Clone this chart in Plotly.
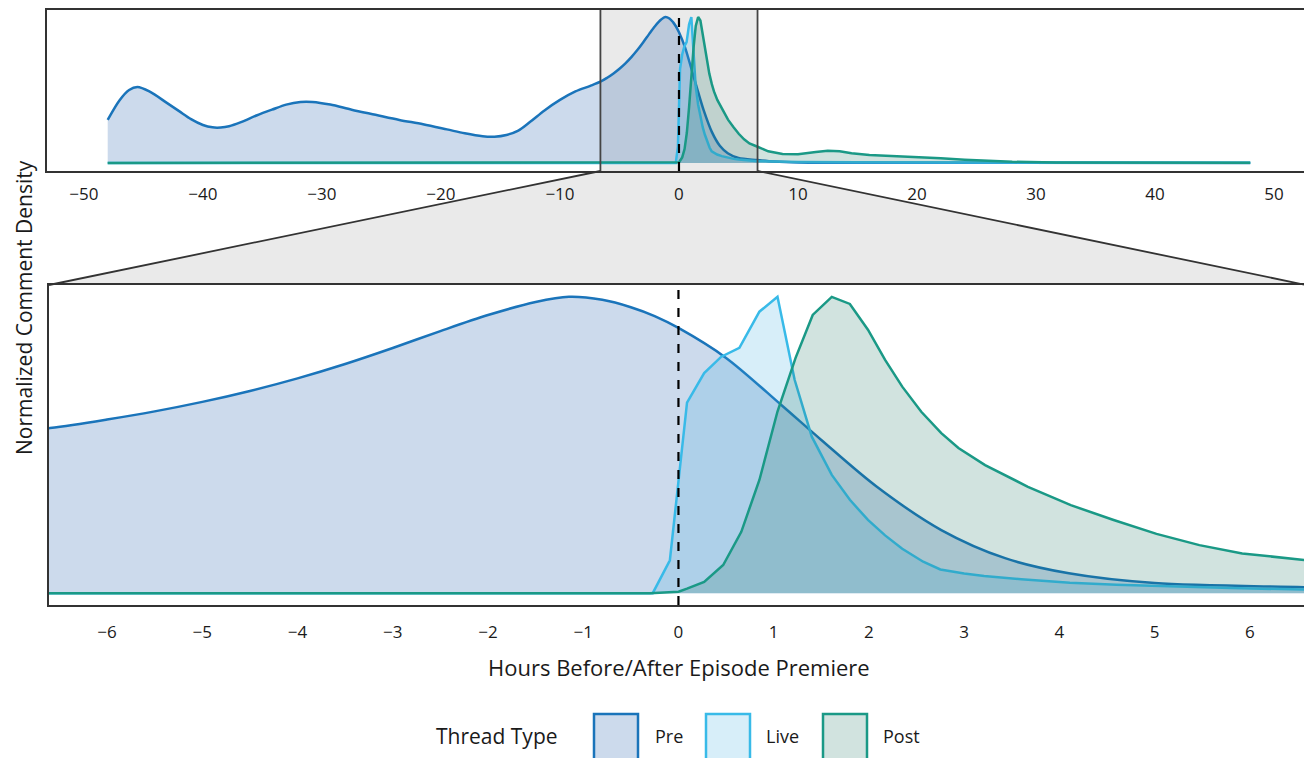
import plotly.graph_objects as go

# ---------------- data ----------------
pre_x = [-48, -47, -46.2, -45.5, -44.5, -43, -42, -41, -40, -39.2, -38.5, -37.8, -36.8, -35.5, -34.2,
         -33, -31.8, -30.8, -29.3, -27.5, -25.5, -23.5, -21.5, -19.5, -18, -16.5, -15.5, -14.5, -13.5,
         -12.5, -11.3, -10, -8.7, -7.5, -6.6, -6.0, -5.5, -5.0, -4.5, -4.0, -3.5, -3.0, -2.5, -2.0,
         -1.5, -1.15, -0.8, -0.5, -0.25, 0, 0.5, 1.08, 1.5, 2.08, 2.76, 3.43, 4.1, 5.0, 6.6, 8, 10,
         15, 25, 48]
pre_y = [0.295, 0.43, 0.50, 0.52, 0.49, 0.41, 0.355, 0.30, 0.26, 0.244, 0.243, 0.252, 0.28, 0.325, 0.365,
         0.40, 0.418, 0.418, 0.40, 0.365, 0.33, 0.295, 0.265, 0.23, 0.203, 0.183, 0.18, 0.192, 0.222,
         0.282, 0.36, 0.432, 0.49, 0.527, 0.557, 0.586, 0.6135, 0.6455, 0.6825, 0.725, 0.7735, 0.8275,
         0.8845, 0.9385, 0.9825, 1.0, 0.99, 0.965, 0.935, 0.895, 0.794, 0.635, 0.517, 0.36, 0.213, 0.118,
         0.067, 0.034, 0.02, 0.01, 0.004, 0.002, 0.001, 0.0]

live_x = [-48, -0.27, -0.09, 0.09, 0.27, 0.45, 0.64, 0.85, 1.04, 1.22, 1.40, 1.61, 1.8, 1.99, 2.17,
          2.35, 2.57, 2.75, 3.0, 3.21, 3.6, 4.11, 4.6, 5.02, 5.8, 6.6, 8, 10, 15, 25, 35, 48]
live_y = [0, 0, 0.111, 0.643, 0.743, 0.798, 0.828, 0.95, 1.0, 0.72, 0.528, 0.399, 0.315, 0.247, 0.195,
          0.15, 0.106, 0.08, 0.066, 0.058, 0.047, 0.035, 0.028, 0.024, 0.017, 0.012, 0.01, 0.007, 0.005,
          0.003, 0.002, 0.002]

post_x = [-48, -0.3, 0, 0.09, 0.27, 0.47, 0.66, 0.85, 1.04, 1.23, 1.41, 1.61, 1.80, 1.99, 2.17, 2.35,
          2.55, 2.76, 2.94, 3.22, 3.67, 4.12, 4.57, 5.02, 5.47, 5.92, 6.6, 7.5, 8.7, 10, 11.5, 12.5,
          13.5, 14.5, 16, 18.3, 20, 22, 24, 26, 28, 31.7, 36, 40, 44, 48]
post_y = [0, 0, 0.005, 0.015, 0.038, 0.095, 0.207, 0.382, 0.613, 0.794, 0.939, 1.0, 0.976, 0.889, 0.787,
          0.697, 0.612, 0.54, 0.49, 0.432, 0.359, 0.297, 0.247, 0.2, 0.162, 0.134, 0.111, 0.08, 0.062,
          0.06, 0.075, 0.084, 0.08, 0.066, 0.055, 0.048, 0.042, 0.032, 0.022, 0.014, 0.008, 0.003, 0.003,
          0.005, 0.003, 0.002]

series_names = ["Pre", "Live", "Post"]
top_ticks = [-50, -40, -30, -20, -10, 0, 10, 20, 30, 40, 50]
bottom_ticks = [-6, -5, -4, -3, -2, -1, 0, 1, 2, 3, 4, 5, 6]
zoom_window = [-6.6, 6.6]

# ---------------- style ----------------
OFF = 8  # page body margin
W, H = 1312 - OFF, 758 - OFF
line_cols = {"Pre": "#1A74BA", "Live": "#38BAE8", "Post": "#1A9986"}
fill_cols = {"Pre": "rgba(0,70,160,0.2)", "Live": "rgba(55,170,225,0.2)", "Post": "rgba(25,115,95,0.2)"}
swatch_fill = {"Pre": "#CCDAEC", "Live": "#D7EEF9", "Post": "#D1E3DF"}
FONT = "Open Sans"
TXT = "#1a1a1a"
FRAME = "#333333"


def px(x):
    return (x - OFF) / W


def py(y):
    return 1 - (y - OFF) / H


top_dom_x = [px(47), px(1305)]
top_dom_y = [py(171), py(10)]
bot_dom_x = [px(49), px(1306)]
bot_dom_y = [py(605), py(285)]
top_range = [-53.1, 52.6]
bot_range = [-6.61, 6.59]

fig = go.Figure()
data = {"Pre": (pre_x, pre_y), "Live": (live_x, live_y), "Post": (post_x, post_y)}
for axis_suffix in ["", "2"]:
    for name in series_names:
        xs, ys = data[name]
        fig.add_trace(go.Scatter(
            x=xs, y=ys, name=name, mode="lines",
            line=dict(color=line_cols[name], width=2.5,
                      shape="spline" if name == "Pre" else "linear", smoothing=0.9),
            fill="tozeroy", fillcolor=fill_cols[name],
            xaxis="x" + axis_suffix, yaxis="y" + axis_suffix, showlegend=False,
            hoverinfo="skip"))

axis_common = dict(showline=True, mirror=True, linecolor=FRAME, linewidth=2,
                   showgrid=False, zeroline=False, ticks="")
tickfont = dict(family=FONT, size=17, color=TXT)

fig.update_layout(
    width=W, height=H, margin=dict(l=0, r=0, t=0, b=0),
    paper_bgcolor="white", plot_bgcolor="rgba(0,0,0,0)",
    xaxis=dict(domain=top_dom_x, range=top_range, tickvals=top_ticks,
               ticktext=[str(t).replace("-", "\u2212") for t in top_ticks], tickfont=tickfont,
               anchor="y", ticklabelstandoff=7, **axis_common),
    yaxis=dict(domain=top_dom_y, range=[-0.055, 1.048], showticklabels=False, anchor="x", **axis_common),
    xaxis2=dict(domain=bot_dom_x, range=bot_range, tickvals=bottom_ticks,
                ticktext=[str(t).replace("-", "\u2212") for t in bottom_ticks], tickfont=tickfont,
                anchor="y2", ticklabelstandoff=11, **axis_common),
    yaxis2=dict(domain=bot_dom_y, range=[-0.04, 1.04], showticklabels=False, anchor="x2", **axis_common),
    showlegend=False,
)


def top_x_to_paper(v):
    return top_dom_x[0] + (v - top_range[0]) / (top_range[1] - top_range[0]) * (top_dom_x[1] - top_dom_x[0])


shapes = []
# grey zoom window in top panel
shapes.append(dict(type="rect", xref="x", yref="y domain", x0=zoom_window[0], x1=zoom_window[1],
                   y0=0, y1=1, fillcolor="#EAEAEA", line=dict(width=0), layer="below"))
# connecting trapezoid
xl, xr = top_x_to_paper(zoom_window[0]), top_x_to_paper(zoom_window[1])
path = (f"M {xl},{top_dom_y[0]} L {xr},{top_dom_y[0]} L {bot_dom_x[1]},{bot_dom_y[1]} "
        f"L {bot_dom_x[0]},{bot_dom_y[1]} Z")
shapes.append(dict(type="path", xref="paper", yref="paper", path=path,
                   fillcolor="#EAEAEA", line=dict(width=0), layer="below"))
for a, b in [((xl, top_dom_y[0]), (bot_dom_x[0], bot_dom_y[1])),
             ((xr, top_dom_y[0]), (bot_dom_x[1], bot_dom_y[1]))]:
    shapes.append(dict(type="line", xref="paper", yref="paper", x0=a[0], y0=a[1], x1=b[0], y1=b[1],
                       line=dict(color=FRAME, width=1.8), layer="above"))
for v in zoom_window:
    shapes.append(dict(type="line", xref="x", yref="y domain", x0=v, x1=v, y0=0, y1=1,
                       line=dict(color="#444444", width=1.8), layer="above"))
# dashed premiere lines
shapes.append(dict(type="line", xref="x", yref="y domain", x0=0, x1=0, y0=0, y1=0.97,
                   line=dict(color="black", width=2.2, dash="dash"), layer="above"))
shapes.append(dict(type="line", xref="x2", yref="y2 domain", x0=0, x1=0, y0=0, y1=1,
                   line=dict(color="black", width=2.2, dash="dash"), layer="above"))

annotations = [
    dict(text="Hours Before/After Episode Premiere", xref="paper", yref="paper",
         x=px(679), y=py(667), showarrow=False, font=dict(family=FONT, size=22, color=TXT),
         xanchor="center", yanchor="middle"),
    dict(text="Normalized Comment Density", xref="paper", yref="paper",
         x=px(24), y=py(308), showarrow=False, textangle=-90, borderpad=0,
         font=dict(family=FONT, size=21, color=TXT), xanchor="center", yanchor="middle"),
    dict(text="Thread Type", xref="paper", yref="paper", x=px(497), y=py(736), showarrow=False,
         font=dict(family=FONT, size=21, color=TXT), xanchor="center", yanchor="middle"),
]

# manual legend
swatch_left = [593, 705, 822]
label_x = [669, 783, 901]
for name, sx, lx in zip(series_names, swatch_left, label_x):
    shapes.append(dict(type="rect", xref="paper", yref="paper", x0=px(sx + 1), x1=px(sx + 45),
                       y0=py(760), y1=py(714), fillcolor=swatch_fill[name],
                       line=dict(color=line_cols[name], width=2.5)))
    annotations.append(dict(text=name, xref="paper", yref="paper", x=px(lx), y=py(736),
                            showarrow=False, font=dict(family=FONT, size=18, color=TXT),
                            xanchor="center", yanchor="middle"))

fig.update_layout(shapes=shapes, annotations=annotations)
fig.write_html("out.html")
